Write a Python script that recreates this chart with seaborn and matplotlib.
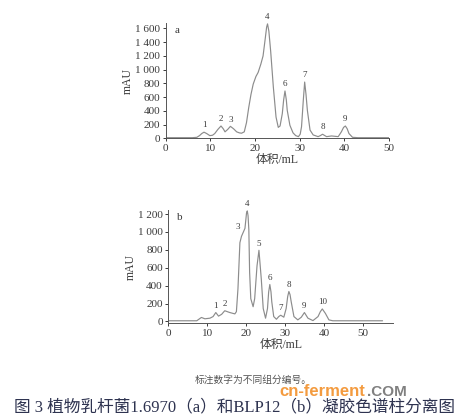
import numpy as np
import pandas as pd
import matplotlib.pyplot as plt
import seaborn as sns

# chromatogram a (1.6970)
vol_a = [0, 3, 6, 7, 7.6, 8.1, 8.6, 9.2, 9.9, 10.5, 11, 11.7, 12.4, 12.9, 13.3, 13.9, 14.5, 15.2, 15.9, 16.5,
         17, 17.6, 18.1, 18.6, 19.1, 19.6, 20.2, 20.7, 21.3, 21.8, 22.3, 22.6, 22.8, 23.1, 23.5, 24.1, 24.7,
         25.2, 25.6, 26.1, 26.4, 26.7, 27.0, 27.2, 27.8, 28.5, 29.1, 29.7, 30.1, 30.4, 30.8, 31.1, 31.4, 31.7,
         32.3, 33, 34.1, 34.6, 35.1, 35.6, 36, 37.1, 38.6, 39.3, 39.8, 40.2, 40.6, 41, 41.8, 43, 46, 50]
mau_a = [10, 10, 10, 15, 40, 70, 90, 70, 40, 45, 70, 130, 180, 140, 95, 130, 175, 140, 95, 80,
         75, 95, 230, 450, 640, 790, 900, 960, 1080, 1200, 1460, 1620, 1667, 1560, 1270, 745, 310,
         160, 180, 360, 560, 690, 560, 410, 190, 80, 40, 25, 60, 170, 560, 820, 640, 410,
         120, 50, 25, 40, 60, 40, 25, 35, 25, 95, 160, 180, 140, 70, 15, 10, 10, 10]

# chromatogram b (BLP12)
vol_b = [0, 4, 7.3, 8.0, 8.5, 9.4, 10.7, 11.5, 12.2, 12.9, 13.7, 14.5, 15.8, 17.1, 17.5, 17.9, 18.4,
         18.8, 19.2, 19.7, 20.1, 20.3, 20.5, 20.7, 20.9, 21.2, 21.8, 22.2, 22.8, 23.3, 23.9, 24.4, 25,
         25.5, 25.8, 26.1, 26.4, 26.6, 27.1, 27.8, 28.4, 28.9, 29.7, 30.3, 30.7, 31, 31.3, 31.6, 32.3,
         33.3, 34.2, 35, 35.9, 37.2, 38.5, 39.1, 39.6, 40.4, 41.3, 42.3, 48, 55.1]
mau_b = [8, 8, 8, 30, 45, 30, 37, 55, 100, 60, 80, 120, 100, 85, 110, 365, 880,
         950, 990, 1040, 1210, 1235, 1180, 1025, 550, 255, 165, 255, 620, 795, 475, 145, 37,
         145, 330, 413, 330, 220, 55, 25, 55, 70, 48, 145, 280, 335, 300, 220, 55,
         18, 48, 100, 37, 10, 55, 110, 140, 90, 18, 8, 8, 8]

# peak numbers and the peak tops they sit on
peaks_a = ['1', '2', '3', '4', '6', '7', '8', '9']
peak_vol_a = [8.6, 12.4, 14.5, 22.8, 26.7, 31.1, 35.1, 40.2]
peak_mau_a = [90, 180, 175, 1667, 690, 820, 60, 180]

peaks_b = ['1', '2', '3', '4', '5', '6', '7', '8', '9', '10']
peak_vol_b = [12.2, 14.5, 19.0, 20.3, 23.3, 26.1, 28.9, 31.0, 35.0, 39.7]
peak_mau_b = [100, 120, 980, 1235, 795, 413, 70, 335, 100, 140]

sns.set_style('ticks')
plt.rcParams['font.family'] = ['Liberation Serif', 'Noto Sans CJK SC']
plt.rcParams['axes.unicode_minus'] = False

fig = plt.figure(figsize=(4.77, 4.18), dpi=100)
ax_a = fig.add_axes([0.347, 0.669, 0.469, 0.276])
ax_b = fig.add_axes([0.353, 0.2266, 0.471, 0.271])

line_col = '#8c8c8c'
txt_col = '#3a3a3a'

df_a = pd.DataFrame({'vol': vol_a, 'mau': mau_a})
df_b = pd.DataFrame({'vol': vol_b, 'mau': mau_b})
sns.lineplot(data=df_a, x='vol', y='mau', ax=ax_a, color=line_col, lw=0.85)
sns.lineplot(data=df_b, x='vol', y='mau', ax=ax_b, color=line_col, lw=0.85)


def fmt(v):
    v = int(v)
    if v >= 1000:
        return f'{v // 1000} {v % 1000:03d}'
    return str(v)


def style_axis(ax, xlim, ylim, yticks, tag):
    ax.set_xlim(*xlim)
    ax.set_ylim(*ylim)
    ax.set_xticks([0, 10, 20, 30, 40, 50])
    ax.set_yticks(yticks)
    ax.set_yticklabels([fmt(t) for t in yticks])
    ax.tick_params(labelsize=8, length=2.5, width=0.7, pad=1.5, colors=txt_col, labelcolor=txt_col)
    for s in ['top', 'right']:
        ax.spines[s].set_visible(False)
    for s in ['left', 'bottom']:
        ax.spines[s].set_linewidth(0.7)
        ax.spines[s].set_color('#555555')
    ax.set_xlabel('体积/mL', fontsize=8.5, color=txt_col, labelpad=1)
    ax.set_ylabel('mAU', fontsize=8.5, color=txt_col, labelpad=1)
    ax.text(0.04, 0.97, tag, transform=ax.transAxes, fontsize=8, color=txt_col, va='top')


style_axis(ax_a, (0, 50), (0, 1680), [0, 200, 400, 600, 800, 1000, 1200, 1400, 1600], 'a')
style_axis(ax_b, (0, 57.8), (-20, 1245), [0, 200, 400, 600, 800, 1000, 1200], 'b')

for lab, x, y in zip(peaks_a, peak_vol_a, peak_mau_a):
    ax_a.annotate(lab, (x, y), xytext=(0, 2), textcoords='offset points', ha='center', va='bottom',
                  fontsize=6.5, color=txt_col, annotation_clip=False)
for lab, x, y in zip(peaks_b, peak_vol_b, peak_mau_b):
    off = (-3, 2) if lab == '3' else (0, 2)
    ax_b.annotate(lab, (x, y), xytext=off, textcoords='offset points', ha='center', va='bottom',
                  fontsize=6.5, color=txt_col, annotation_clip=False)

fig.text(0.53, 0.092, '标注数字为不同组分编号。', ha='center', va='center', fontsize=7, color='#555555')
fig.text(0.03, 0.025, '图 3 植物乳杆菌1.6970（a）和BLP12（b）凝胶色谱柱分离图', ha='left', va='center',
         fontsize=12, color='#2e3350')
# site watermark
fig.text(0.585, 0.063, 'cn-ferment', ha='left', va='center', fontsize=12, color='#f28a1e',
         fontweight='bold', family=['Liberation Sans'], alpha=0.85)
fig.text(0.77, 0.063, '.COM', ha='left', va='center', fontsize=11, color='#555555',
         fontweight='bold', family=['Liberation Sans'], alpha=0.75)

fig.savefig('out.png', dpi=100)
